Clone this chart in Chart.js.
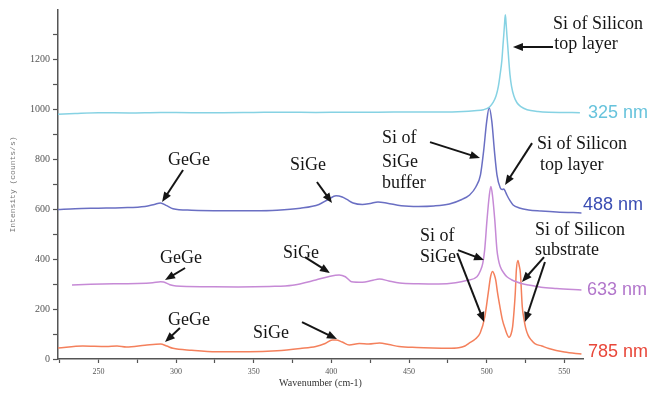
<!DOCTYPE html>
<html>
<head>
<meta charset="utf-8">
<script src="https://cdn.jsdelivr.net/npm/chart.js@4.4.1/dist/chart.umd.min.js"></script>
<style>
  body { margin: 0; background: #fff; }
  canvas { display: block; }
</style>
</head>
<body>
<canvas id="raman" width="652" height="395"></canvas>
<script>
// Raman spectra of a SiGe layer on Si, four excitation lines (offset vertically)

// 325 nm
const wn325 = [224, 235, 250, 270, 290, 310, 330, 350, 370, 390, 410, 430, 450, 470, 485, 492, 498, 502, 504, 506,
  507.5, 508.5, 509.8, 510.5, 511, 511.5, 512, 512.5, 513, 513.5, 514.2, 515, 516, 517.5, 519.5, 522, 526, 533, 540, 550, 560];
const int325 = [982, 985, 988, 987, 989, 988, 988, 989, 990, 989, 990, 990, 991, 991, 993, 996, 1000, 1012, 1028, 1055,
  1094, 1135, 1200, 1260, 1300, 1345, 1381, 1345, 1300, 1260, 1200, 1140, 1094, 1055, 1028, 1012, 1000, 993, 990, 989, 988];

// 488 nm
const wn488 = [224, 235, 250, 265, 280, 286, 290, 294, 298, 310, 330, 350, 365, 380, 392, 398, 403, 407, 410, 414,
  420, 425, 430, 436, 445, 456, 466, 476, 484, 489, 493, 496, 498, 500, 501.6, 503.3, 505, 506.6, 508.7, 510,
  511, 512, 513, 515, 517, 521, 527, 535, 545, 561];
const int488 = [600, 603, 605, 607, 612, 620, 626, 615, 603, 597, 595, 595, 597, 605, 620, 640, 655, 650, 640, 626,
  620, 624, 630, 625, 615, 612, 614, 622, 640, 658, 690, 739, 833, 953, 1008, 953, 833, 739, 687, 680,
  682, 672, 658, 635, 618, 606, 598, 594, 590, 586];

// 633 nm
const wn633 = [233, 245, 260, 275, 285, 290, 292, 296, 300, 320, 340, 360, 375, 390, 398, 405, 409, 413, 420, 426,
  431, 437, 444, 456, 469, 480, 487, 493.7, 496, 497.5, 498.7, 500.2, 501.6, 502.7, 503.8, 505.2, 506.6, 507.5, 508.7, 511,
  513, 516, 519, 523, 527, 535, 545, 561];
const int633 = [297, 300, 302, 303, 306, 310, 309, 298, 293, 290, 289, 291, 296, 317, 330, 337, 330, 310, 308, 315,
  321, 313, 305, 302, 301, 306, 315, 330, 355, 385, 438, 558, 652, 692, 652, 558, 438, 400, 371, 345,
  330, 318, 310, 302, 297, 288, 283, 277];

// 785 nm
const wn785 = [224, 240, 255, 262, 268, 280, 290, 294, 298, 310, 326, 347, 365, 380, 390, 396, 400.6, 403, 407, 411.5,
  418, 424, 431, 437, 443.6, 455, 465, 475, 482, 486, 488.5, 492.7, 495.8, 498.8, 501, 502.5, 503.8, 504.8, 505.8, 507,
  508.5, 510, 511.7, 514.4, 515.7, 516.7, 517.7, 518.4, 519.1, 520.1, 520.9, 521.7, 522.9, 524, 525.1, 526.7, 528.7, 531, 535.5, 540,
  550, 561];
const int785 = [44, 52, 50, 52, 48, 55, 60, 52, 43, 35, 29, 29, 33, 42, 50, 62, 76, 76, 68, 56,
  62, 60, 64, 58, 50, 46, 44, 43, 45, 52, 63, 80, 104, 170, 265, 330, 351, 340, 317, 265,
  210, 160, 124, 87, 100, 130, 200, 265, 357, 395, 375, 344, 210, 160, 124, 95, 76, 62, 52, 42,
  28, 20];

const seriesNames = ["325 nm", "488 nm", "633 nm", "785 nm"];
const xTicks = [225, 250, 275, 300, 325, 350, 375, 400, 425, 450, 475, 500, 525, 550];
const yTicks = [0, 100, 200, 300, 400, 500, 600, 700, 800, 900, 1000, 1100, 1200, 1300];

// text notes: [text, wavenumber, intensity] (left edge, middle)
const notes = [
  ["Si of Silicon", 542.7, 1344], ["top layer", 543.5, 1264],
  ["Si of Silicon", 532.4, 862], ["top layer", 534.3, 778],
  ["Si of", 432.6, 887], ["SiGe", 432.6, 790], ["buffer", 432.6, 706],
  ["GeGe", 294.8, 798], ["SiGe", 373.4, 778],
  ["GeGe", 289.7, 405], ["SiGe", 368.9, 425],
  ["GeGe", 294.8, 156], ["SiGe", 349.5, 104],
  ["Si of", 457.1, 493], ["SiGe", 457.1, 409],
  ["Si of Silicon", 531.1, 517], ["substrate", 531.1, 437]
];

// arrows: [fromWn, fromInt, toWn, toInt]
const arrows = [
  [542.7, 1252, 516.9, 1252],
  [529.2, 866, 511.8, 698],
  [463.5, 870, 495.7, 806],
  [304.5, 758, 291.0, 630],
  [390.7, 710, 400.4, 626],
  [305.8, 365, 292.9, 317],
  [383.0, 409, 399.1, 345],
  [302.5, 124, 292.9, 68],
  [381.1, 148, 403.6, 80],
  [481.5, 437, 498.3, 397],
  [481.0, 425, 498.3, 148],
  [536.9, 409, 522.7, 309],
  [537.5, 389, 524.6, 148]
];

// series name tags at the right: [wavenumber, intensity]
const tagPos = [[565.2, 987], [562.0, 618], [564.6, 277], [565.2, 28]];

const lineColors = ["#86d2e3", "#6a6fc3", "#c68ad6", "#f4805c"];
const tagColors = ["#67c3dc", "#3a4db3", "#b276cb", "#e8473a"];

const toPoints = (xs, ys) => xs.map((x, i) => ({ x: x, y: ys[i] }));
const spectra = [[wn325, int325], [wn488, int488], [wn633, int633], [wn785, int785]];

const drawArrow = (ctx, x1, y1, x2, y2) => {
  const ang = Math.atan2(y2 - y1, x2 - x1);
  const head = 10;
  ctx.beginPath();
  ctx.moveTo(x1, y1);
  ctx.lineTo(x2 - Math.cos(ang) * head * 0.8, y2 - Math.sin(ang) * head * 0.8);
  ctx.stroke();
  ctx.beginPath();
  ctx.moveTo(x2, y2);
  ctx.lineTo(x2 - head * Math.cos(ang) + 4 * Math.sin(ang), y2 - head * Math.sin(ang) - 4 * Math.cos(ang));
  ctx.lineTo(x2 - head * Math.cos(ang) - 4 * Math.sin(ang), y2 - head * Math.sin(ang) + 4 * Math.cos(ang));
  ctx.closePath();
  ctx.fill();
};

const annotate = {
  id: "annotate",
  afterDatasetsDraw(chart) {
    const { ctx, scales: { x, y } } = chart;
    ctx.save();
    ctx.fillStyle = "#151515";
    ctx.strokeStyle = "#151515";
    ctx.lineWidth = 2;
    ctx.font = '18px "Liberation Serif"';
    ctx.textBaseline = "middle";
    ctx.textAlign = "left";
    notes.forEach(([t, wx, wy]) => ctx.fillText(t, x.getPixelForValue(wx), y.getPixelForValue(wy)));
    arrows.forEach(([a, b, c, d]) =>
      drawArrow(ctx, x.getPixelForValue(a), y.getPixelForValue(b), x.getPixelForValue(c), y.getPixelForValue(d)));

    ctx.font = '18px "Liberation Sans"';
    seriesNames.forEach((name, i) => {
      ctx.fillStyle = tagColors[i];
      ctx.fillText(name, x.getPixelForValue(tagPos[i][0]), y.getPixelForValue(tagPos[i][1]));
    });
    ctx.restore();
  }
};

new Chart(document.getElementById("raman"), {
  type: "line",
  data: {
    datasets: spectra.map(([xs, ys], i) => ({
      label: seriesNames[i],
      data: toPoints(xs, ys),
      borderColor: lineColors[i],
      borderWidth: 1.5,
      pointRadius: 0,
      cubicInterpolationMode: "monotone",
      fill: false
    }))
  },
  options: {
    responsive: false,
    animation: false,
    devicePixelRatio: 1,
    layout: { padding: { top: 10, right: 69, left: 0, bottom: 0 } },
    plugins: { legend: { display: false }, tooltip: { enabled: false } },
    scales: {
      x: {
        type: "linear",
        min: 224,
        max: 562,
        afterFit: (s) => { s.height = 36; },
        afterBuildTicks: (s) => { s.ticks = xTicks.map((v) => ({ value: v })); },
        grid: { drawOnChartArea: false, drawTicks: true, tickLength: 4, color: "#555", tickWidth: 1.2 },
        border: { display: true, color: "#555", width: 1.5 },
        ticks: {
          color: "#555",
          padding: 4,
          maxRotation: 0,
          autoSkip: false,
          font: { family: "Liberation Serif", size: 8 },
          callback: (v) => (v % 50 === 0 ? String(v) : "")
        },
        title: {
          display: true,
          text: "Wavenumber (cm-1)",
          color: "#333",
          font: { family: "Liberation Serif", size: 10 },
          padding: { top: 0, bottom: 6 }
        }
      },
      y: {
        min: 0,
        max: 1400,
        afterFit: (s) => { s.width = 58; },
        afterBuildTicks: (s) => { s.ticks = yTicks.map((v) => ({ value: v })); },
        grid: { drawOnChartArea: false, drawTicks: true, tickLength: 5, color: "#555", tickWidth: 1.2 },
        border: { display: true, color: "#555", width: 1.5 },
        ticks: {
          color: "#555",
          padding: 3,
          autoSkip: false,
          font: { family: "Liberation Serif", size: 10 },
          callback: (v) => (v % 200 === 0 ? String(v) : "")
        },
        title: {
          display: true,
          text: "Intensity (counts/s)",
          color: "#777",
          font: { family: "Liberation Mono", size: 8 },
          padding: { top: 8, bottom: 0 }
        }
      }
    }
  },
  plugins: [annotate]
});
</script>
</body>
</html>
